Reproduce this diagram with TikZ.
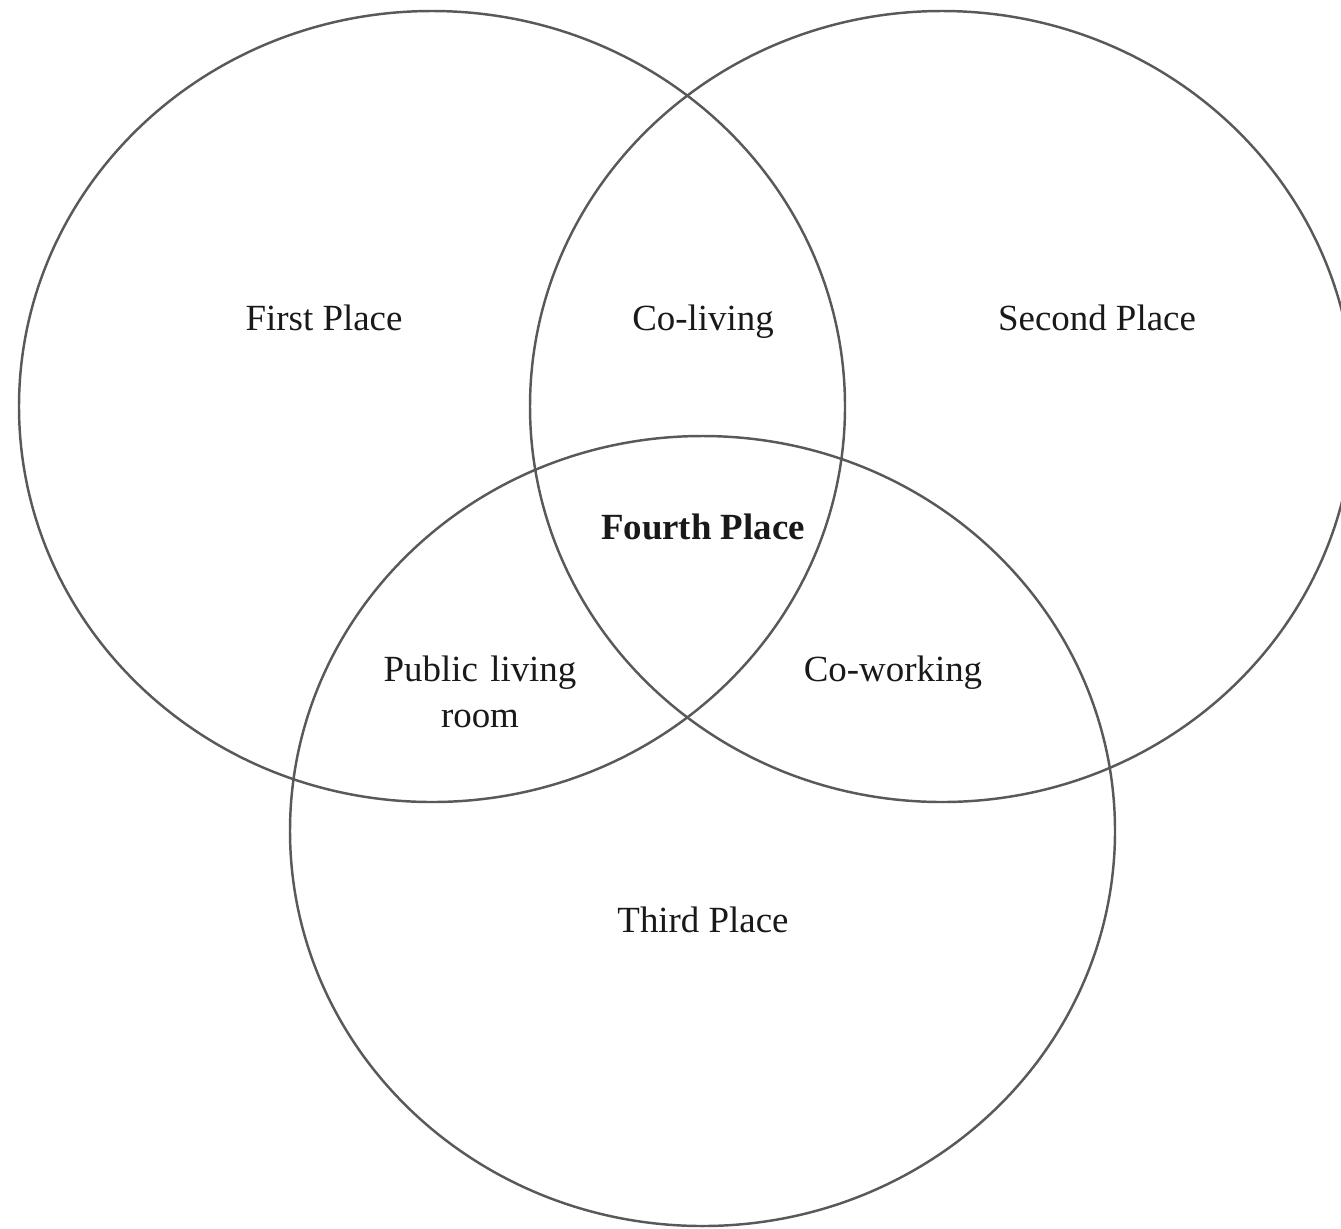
\documentclass[tikz,border=0pt]{standalone}
\usepackage{fontspec}
\setmainfont{Liberation Serif}
\usetikzlibrary{positioning}

\tikzset{
  ring/.style={draw=black!65, line width=1.4pt},
  place/.style={font=\fontsize{21}{26.6}\selectfont, text=black!90, align=center, inner sep=0pt, anchor=base},
  core/.style={place, font=\fontsize{21}{26.6}\selectfont\bfseries}
}

\begin{document}
\begin{tikzpicture}[x=0.02cm, y=0.02cm]
        \useasboundingbox (0,0) rectangle (1341,-1228);
        \clip (0,0) rectangle (1341,-1228);
        % Circles
        \draw[ring] (432,-406.5) ellipse [x radius=413, y radius=395.5];
        \draw[ring] (942,-406.5) ellipse [x radius=412, y radius=395.5];
        \draw[ring] (702.5,-831) ellipse [x radius=412.5, y radius=395];
        % Outer labels
        \node[place] (first) at (324,-330) {First Place};
        \node[place] (second) at (1097,-330) {Second Place};
        \node[place] (third) at (703,-932) {Third Place};
        % Overlaps
        \node[place] (colive) at (703,-330) {Co-living};
        \node[place] (cowork) at (893,-681) {Co-working};
        \node[place, text width=5cm] (publiv) at (480,-681) {Public living\\room};
        % Centre
        \node[core] (fourth) at (703,-539) {Fourth Place};
\end{tikzpicture}
\end{document}
